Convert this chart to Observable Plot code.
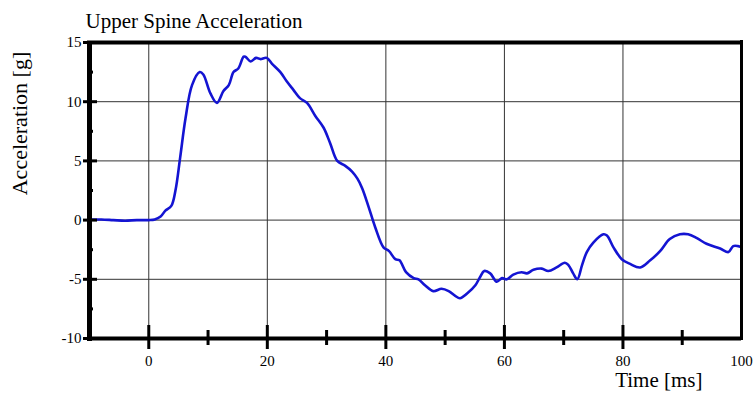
<!DOCTYPE html>
<html>
<head>
<meta charset="utf-8">
<script src="https://cdn.jsdelivr.net/npm/d3@7"></script>
<script src="https://cdn.jsdelivr.net/npm/@observablehq/plot@0.6"></script>
<style>
  html, body { margin: 0; padding: 0; background: #fff; }
  #chart { width: 755px; height: 394px; }
  #chart svg, #chart svg text { font-family: "Liberation Serif", "Times New Roman", serif; }
</style>
</head>
<body>
<div id="chart"></div>
<script>
const title = "Upper Spine Acceleration";
const yLabel = "Acceleration [g]";
const xLabel = "Time [ms]";

const time = [-10, -8, -6, -4, -2, 0, 1, 2, 2.8, 3.8, 4.5, 5.3, 6.2, 7.3, 8.6, 9.2, 10.4, 11.5, 12.6, 13.5,
  14.3, 15.1, 16.0, 16.3, 17.2, 18.1, 18.8, 19.9, 20.8, 22.2, 23.3, 24.4, 25.5, 26.7, 28.1, 29.5, 30.6, 31.8,
  33.1, 34.3, 35.2, 36.0, 37.1, 38.2, 39.6, 40.5, 41.6, 42.3, 43.4, 44.7, 45.5, 46.6, 48.0, 49.4, 50.6, 51.7,
  52.5, 53.7, 55.1, 55.9, 56.6, 57.6, 58.7, 59.6, 60.4, 61.5, 62.9, 63.8, 64.9, 66.3, 67.4, 68.8, 70.2, 70.8,
  71.6, 72.3, 73.1, 73.9, 75.0, 76.7, 77.3, 78.4, 79.8, 81.2, 82.9, 84.6, 86.3, 87.9, 89.6, 91.0, 92.4, 94.1,
  96.4, 97.8, 98.6, 99.4, 100];
const accel = [0.05, 0.05, 0, -0.05, 0, 0, 0.05, 0.3, 0.8, 1.2, 2.5, 5.3, 8.6, 11.4, 12.5, 12.3, 10.7, 9.9, 10.9, 11.4,
  12.5, 12.8, 13.8, 13.8, 13.4, 13.7, 13.6, 13.7, 13.2, 12.5, 11.7, 11.0, 10.3, 9.9, 8.8, 7.8, 6.5, 5.0,
  4.6, 4.1, 3.5, 2.7, 1.1, -0.6, -2.3, -2.6, -3.3, -3.4, -4.4, -4.9, -5.0, -5.5, -6.0, -5.8, -6.0, -6.4,
  -6.6, -6.2, -5.5, -4.8, -4.3, -4.5, -5.2, -4.9, -5.0, -4.6, -4.4, -4.5, -4.2, -4.1, -4.3, -4.0, -3.6, -3.8,
  -4.5, -5.0, -3.8, -2.7, -1.9, -1.2, -1.3, -2.3, -3.3, -3.7, -4.0, -3.4, -2.6, -1.6, -1.2, -1.2, -1.5, -2.0,
  -2.4, -2.7, -2.2, -2.2, -2.3];

const xTickLabels = [0, 20, 40, 60, 80, 100];
const xMajor = [0, 20, 40, 60, 80];
const xMinor = [10, 30, 50, 70, 90];
const yTickLabels = [-10, -5, 0, 5, 10, 15];
const yGrid = [-5, 0, 5, 10];
const yMajor = [-10, -5, 0, 5, 10, 15];
const yMinor = [-7.5, -2.5, 2.5, 7.5, 12.5];

const data = time.map((t, i) => ({t, a: accel[i]}));

const W = 755, H = 394;
const mL = 89, mR = 14, mT = 42, mB = 56;
const fw = W - mL - mR, fh = H - mT - mB;
const serif = "Liberation Serif";

const chart = Plot.plot({
  width: W,
  height: H,
  marginLeft: mL,
  marginRight: mR,
  marginTop: mT,
  marginBottom: mB,
  style: {fontFamily: serif, fontSize: "15px", color: "#000", background: "#fff"},
  x: {domain: [-10, 100], axis: null},
  y: {domain: [-10, 15], axis: null},
  marks: [
    // grid
    Plot.ruleX(xMajor, {stroke: "#333", strokeWidth: 1}),
    Plot.ruleY(yGrid, {stroke: "#333", strokeWidth: 1}),
    // data line
    Plot.line(data, {x: "t", y: "a", stroke: "#1414d2", strokeWidth: 2.6, curve: "catmull-rom"}),
    // frame
    Plot.ruleX([-10], {strokeWidth: 5, stroke: "#000", insetBottom: -3}),
    Plot.ruleX([100], {strokeWidth: 3, stroke: "#000", insetTop: -2, insetBottom: -2}),
    Plot.ruleY([15], {strokeWidth: 4, stroke: "#000", insetLeft: -2}),
    Plot.ruleY([-10], {strokeWidth: 4, stroke: "#000", insetLeft: -2}),
    // x ticks
    Plot.ruleX(xMajor, {strokeWidth: 3, stroke: "#000", insetTop: fh - 13, insetBottom: -11}),
    Plot.ruleX(xMinor, {strokeWidth: 3, stroke: "#000", insetTop: fh - 8, insetBottom: -7}),
    // y ticks
    Plot.ruleY(yMajor, {strokeWidth: 3, stroke: "#000", insetLeft: -6, insetRight: fw - 8}),
    Plot.ruleY(yMinor, {strokeWidth: 3, stroke: "#000", insetLeft: -1, insetRight: fw - 4}),
    // tick labels
    Plot.text(xTickLabels, {x: d => d, frameAnchor: "bottom", dy: 23, textAnchor: "middle", lineAnchor: "middle", fontSize: 15, fontFamily: serif, text: d => String(d)}),
    Plot.text(yTickLabels, {y: d => d, frameAnchor: "left", dx: -8, textAnchor: "end", lineAnchor: "middle", fontSize: 15, fontFamily: serif, text: d => String(d)}),
    // texts
    Plot.text([title], {frameAnchor: "top-left", dx: -4, dy: -21, textAnchor: "start", lineAnchor: "middle", fontSize: 21, fontFamily: serif, text: d => d}),
    Plot.text([yLabel], {frameAnchor: "left", dx: -70, dy: -67, rotate: -90, textAnchor: "middle", lineAnchor: "middle", fontSize: 22, fontFamily: serif, text: d => d}),
    Plot.text([xLabel], {frameAnchor: "bottom-right", dx: -39, dy: 42, textAnchor: "end", lineAnchor: "middle", fontSize: 21, fontFamily: serif, text: d => d})
  ]
});
document.getElementById("chart").appendChild(chart);
</script>
</body>
</html>
